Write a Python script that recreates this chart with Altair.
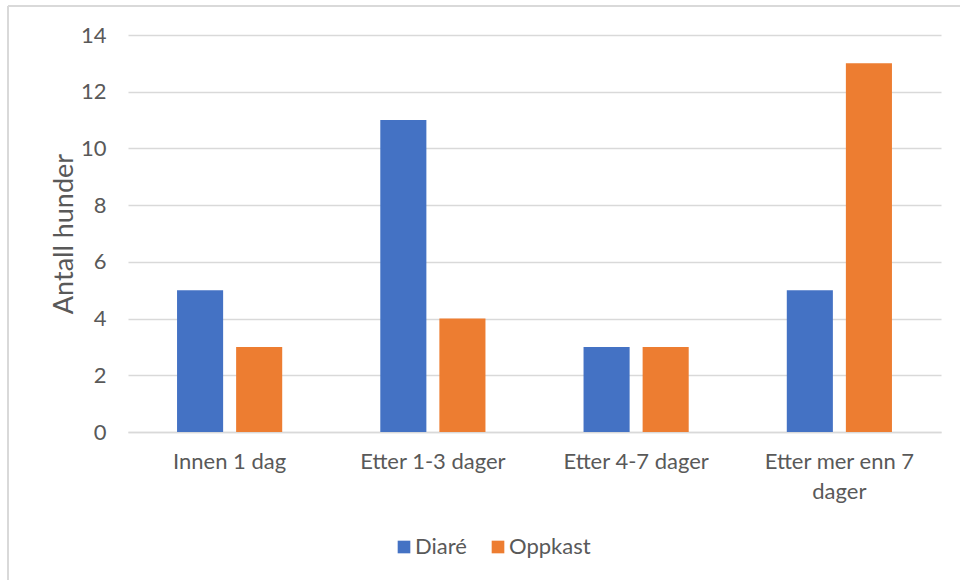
import altair as alt
import pandas as pd

categories = ["Innen 1 dag", "Etter 1-3 dager", "Etter 4-7 dager", "Etter mer enn 7 dager"]
series = ["Diaré", "Oppkast"]
diare = [5, 11, 3, 5]
oppkast = [3, 4, 3, 13]
y_ticks = [0, 2, 4, 6, 8, 10, 12, 14]

rows = []
for cat, d, o in zip(categories, diare, oppkast):
    rows.append({"Tidspunkt": cat, "Symptom": series[0], "Antall": d})
    rows.append({"Tidspunkt": cat, "Symptom": series[1], "Antall": o})
df = pd.DataFrame(rows)

FONT = "Lato"
TEXT = "#595959"
GRID = "#D9D9D9"
LABEL_SIZE = 22

bars = alt.Chart(df).mark_bar().encode(
    x=alt.X(
        "Tidspunkt:N",
        sort=categories,
        scale=alt.Scale(paddingInner=0, paddingOuter=0),
        axis=alt.Axis(
            title=None,
            labelAngle=0,
            labelFont=FONT,
            labelFontSize=LABEL_SIZE,
            labelColor=TEXT,
            labelPadding=19,
            labelLineHeight=30,
            labelExpr="datum.label == 'Etter mer enn 7 dager' ? ['Etter mer enn 7', 'dager'] : datum.label",
            ticks=False,
            domainColor=GRID,
            domainWidth=1.5,
            grid=False,
        ),
    ),
    xOffset=alt.XOffset(
        "Symptom:N",
        sort=series,
        scale=alt.Scale(paddingInner=0.22, paddingOuter=0.83),
    ),
    y=alt.Y(
        "Antall:Q",
        scale=alt.Scale(domain=[0, 14], nice=False),
        axis=alt.Axis(
            title="Antall hunder",
            titleFont=FONT,
            titleFontSize=27,
            titleFontWeight="normal",
            titleColor=TEXT,
            titlePadding=2,
            values=y_ticks,
            labelFont=FONT,
            labelFontSize=LABEL_SIZE,
            labelColor=TEXT,
            labelPadding=22,
            ticks=False,
            domain=False,
            gridColor=GRID,
            gridWidth=1.5,
        ),
    ),
    color=alt.Color(
        "Symptom:N",
        sort=series,
        scale=alt.Scale(domain=series, range=["#4472C4", "#ED7D31"]),
        legend=alt.Legend(
            title=None,
            orient="none",
            direction="horizontal",
            legendX=265,
            legendY=501,
            symbolType="square",
            symbolSize=160,
            symbolStrokeWidth=0,
            labelFont=FONT,
            labelFontSize=LABEL_SIZE,
            labelColor=TEXT,
            columnPadding=20,
            labelOffset=0,
        ),
    ),
)

# outer chart frame
frame_df = pd.DataFrame({"k": [0]})
frame_left = alt.Chart(frame_df).mark_rule(color="#D9D9D9", strokeWidth=2, clip=False).encode(
    x=alt.value(-120), y=alt.value(-29), y2=alt.value(600)
)
frame_top = alt.Chart(frame_df).mark_rule(color="#D9D9D9", strokeWidth=2, clip=False).encode(
    x=alt.value(-120), x2=alt.value(900), y=alt.value(-29)
)

chart = alt.layer(bars, frame_left, frame_top).properties(
    width=813,
    height=397,
    autosize=alt.AutoSizeParams(type="none"),
    padding={"left": 128, "top": 35, "right": 19, "bottom": 148},
    background="white",
).configure_view(stroke=None)

chart.save("out.html", embed_options={"renderer": "svg", "actions": False})
